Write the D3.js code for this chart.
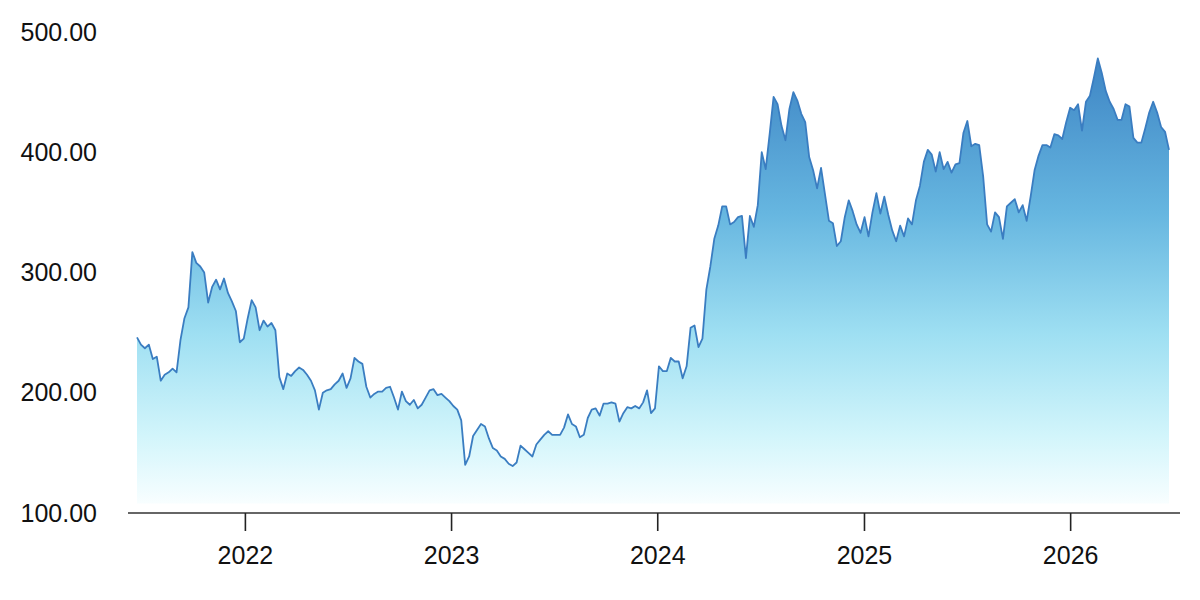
<!DOCTYPE html>
<html>
<head>
<meta charset="utf-8">
<script src="https://cdn.jsdelivr.net/npm/d3@7"></script>
<style>
  body { margin: 0; background: #fff; }
  svg { display: block; font-family: "Liberation Sans", Arial, sans-serif; }
</style>
</head>
<body>
<svg width="1200" height="600"></svg>
<script>
// Weekly closes, first week starting 2021-06-24
const startDate = "2021-06-24";
const values = [
  246, 240, 237, 240, 228, 230, 210, 215, 217, 220,
  217, 244, 262, 271, 317, 308, 305, 300, 275, 288,
  294, 286, 295, 283, 276, 268, 242, 245, 262, 277,
  271, 252, 260, 255, 258, 252, 213, 203, 216, 214,
  218, 221, 219, 215, 210, 202, 186, 200, 202, 203,
  207, 210, 216, 204, 212, 229, 226, 224, 205, 196,
  199, 201, 201, 204, 205, 196, 186, 201, 193, 190,
  194, 187, 190, 196, 202, 203, 198, 199, 196, 193,
  189, 186, 177, 140, 147, 164, 169, 174, 172, 162,
  154, 152, 147, 145, 141, 139, 142, 156, 153, 150,
  147, 157, 161, 165, 168, 165, 165, 165, 171, 182,
  174, 172, 163, 165, 179, 186, 187, 181, 191, 191,
  192, 191, 176, 183, 188, 187, 189, 187, 192, 202,
  183, 187, 222, 218, 218, 229, 226, 226, 212, 222,
  254, 256, 238, 245, 286, 305, 328, 339, 355, 355,
  340, 342, 346, 347, 312, 347, 338, 356, 400, 386,
  415, 446, 440, 422, 410, 436, 450, 443, 432, 425,
  396, 385, 370, 387, 365, 343, 341, 322, 326, 346,
  360, 351, 340, 333, 346, 330, 350, 366, 349, 363,
  348, 335, 326, 339, 330, 345, 340, 360, 372, 392,
  402, 398, 384, 400, 386, 392, 383, 390, 391, 416,
  426, 405, 407, 406, 380, 340, 334, 350, 346, 328,
  355, 358, 361, 350, 356, 343, 363, 385, 397, 406,
  406, 404, 415, 414, 411, 425, 437, 435, 440, 418,
  442, 447, 462, 478, 466, 451, 442, 436, 427, 427,
  440, 438, 412, 408, 408, 420, 433, 442, 433, 421,
  417, 402
];
const yTicks = [100, 200, 300, 400, 500];
const xTicks = ["2022-01-01", "2023-01-01", "2024-01-01", "2025-01-01", "2026-01-01"];
const baseValue = 108;

const parse = d3.timeParse("%Y-%m-%d");
const t0 = parse(startDate);
const data = values.map((v, i) => ({ date: d3.timeDay.offset(t0, 7 * i), value: v }));

const svg = d3.select("svg");
const area = { left: 137, right: 1169, top: 32, bottom: 513 };

const x = d3.scaleTime()
    .domain(d3.extent(data, d => d.date))
    .range([area.left, area.right]);

const y = d3.scaleLinear()
    .domain([100, 500])
    .range([area.bottom, area.top]);

// gradient fill
const defs = svg.append("defs");
const grad = defs.append("linearGradient")
    .attr("id", "fillGrad")
    .attr("gradientUnits", "userSpaceOnUse")
    .attr("x1", 0).attr("x2", 0)
    .attr("y1", y(480)).attr("y2", y(baseValue));
[
  [0, "#3d84c4"],
  [0.35, "#66b6e0"],
  [0.62, "#9edff2"],
  [0.85, "#d2f5fb"],
  [1, "#f8feff"]
].forEach(s => grad.append("stop").attr("offset", s[0]).attr("stop-color", s[1]));

svg.append("path")
    .datum(data)
    .attr("fill", "url(#fillGrad)")
    .attr("d", d3.area()
        .x(d => x(d.date))
        .y0(y(baseValue))
        .y1(d => y(d.value)));

svg.append("path")
    .datum(data)
    .attr("fill", "none")
    .attr("stroke", "#3a7dc1")
    .attr("stroke-width", 1.8)
    .attr("stroke-linejoin", "round")
    .attr("d", d3.line()
        .x(d => x(d.date))
        .y(d => y(d.value)));

// x axis
const gx = svg.append("g")
    .attr("transform", `translate(0, ${area.bottom})`)
    .call(d3.axisBottom(x)
        .tickValues(xTicks.map(parse))
        .tickFormat(d3.timeFormat("%Y"))
        .tickSize(18)
        .tickSizeOuter(0)
        .tickPadding(15));
gx.select(".domain")
    .attr("d", `M${area.left - 9},0H${area.right + 11}`)
    .attr("stroke", "#333")
    .attr("stroke-width", 1.6);
gx.selectAll(".tick line").attr("stroke", "#222").attr("stroke-width", 1.6);
gx.selectAll("text").attr("font-size", 25).attr("fill", "#111").attr("font-family", "Liberation Sans, Arial, sans-serif");

// y axis (labels only)
const gy = svg.append("g")
    .attr("transform", `translate(97, 0)`)
    .call(d3.axisLeft(y)
        .tickValues(yTicks)
        .tickFormat(d3.format(".2f"))
        .tickSize(0)
        .tickPadding(0));
gy.select(".domain").remove();
gy.selectAll("text").attr("font-size", 25).attr("fill", "#111").attr("font-family", "Liberation Sans, Arial, sans-serif");
</script>
</body>
</html>
